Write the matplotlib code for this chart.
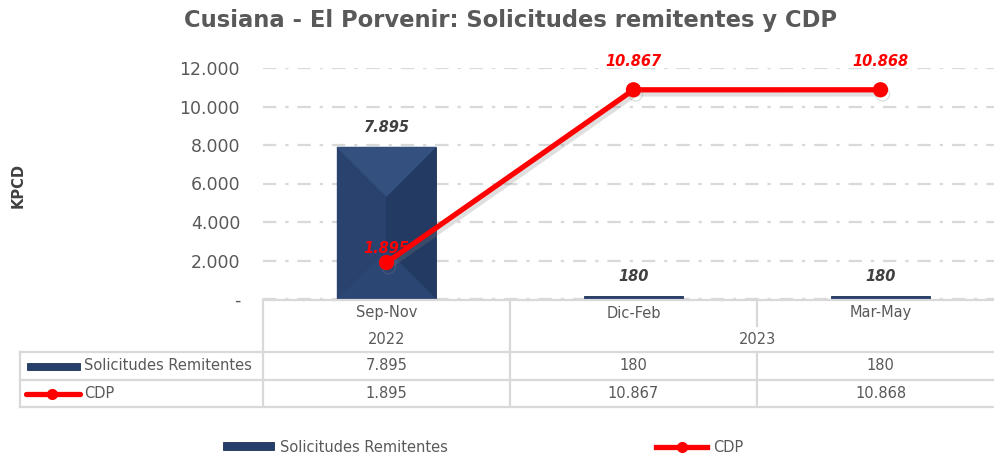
import matplotlib
matplotlib.use("Agg")
import matplotlib.pyplot as plt
import matplotlib.patheffects as pe
from matplotlib.lines import Line2D
from matplotlib.patches import Rectangle, Polygon
from matplotlib.transforms import blended_transform_factory
from matplotlib.ticker import FuncFormatter

# ---------------- data ----------------
periods = ["Sep-Nov", "Dic-Feb", "Mar-May"]
years = ["2022", "2023"]
year_spans = [(0, 0), (1, 2)]
solicitudes = [7895, 180, 180]
cdp = [1895, 10867, 10868]
yticks = [0, 2000, 4000, 6000, 8000, 10000, 12000]
series_names = ["Solicitudes Remitentes", "CDP"]
title = "Cusiana - El Porvenir: Solicitudes remitentes y CDP"
ylabel = "KPCD"

# ---------------- style ----------------
W, H = 994, 457
GREY = "#595959"
DARK = "#404040"
RED = "#FF0000"
NAVY = "#263F6A"
GRID = "#D9D9D9"
FONT = "DejaVu Sans"
plt.rcParams["font.family"] = [FONT]


def fmt(v):
    if v == 0:
        return "-"
    return f"{v:,.0f}".replace(",", ".")


def fy(py):  # pixel-from-top -> figure fraction
    return 1 - py / H


def fx(px):
    return px / W


fig = plt.figure(figsize=(W / 100, H / 100), dpi=100)
ax_left, ax_right, ax_top, ax_bot = 263, 1004, 68, 299
ax = fig.add_axes([fx(ax_left), fy(ax_bot), (ax_right - ax_left) / W, (ax_bot - ax_top) / H])
ax.set_xlim(-0.5, 2.5)
ax.set_ylim(0, 12000)
ax.set_yticks(yticks)
ax.yaxis.set_major_formatter(FuncFormatter(lambda v, p: fmt(v)))
ax.tick_params(axis="y", length=0, pad=16.5, labelsize=12.5, labelcolor=GREY)
ax.tick_params(axis="x", length=0, labelbottom=False)
for s in ax.spines.values():
    s.set_visible(False)
ax.grid(axis="y", color=GRID, linewidth=1.6, linestyle=(0, (6, 4, 1.5, 4)))
ax.set_axisbelow(True)

xs = list(range(len(periods)))
bars = ax.bar(xs, solicitudes, width=0.4, color=NAVY, edgecolor="#1E3257", linewidth=0.6, zorder=2)

# bevel shading
px_per_x = (ax_right - ax_left) / 3.0
px_per_y = (ax_bot - ax_top) / 12000.0
for rect in bars:
    x0, w, h = rect.get_x(), rect.get_width(), rect.get_height()
    hp = h * px_per_y
    if hp < 20:
        continue
    d_px = w * px_per_x / 2
    dy = d_px / px_per_y
    x1 = x0 + w
    xm = x0 + w / 2
    top = h
    faces = [
        ([(x0, 0), (x0, top), (xm, top - dy), (xm, dy)], "#29426E"),
        ([(x1, 0), (x1, top), (xm, top - dy), (xm, dy)], "#233A63"),
        ([(x0, top), (x1, top), (xm, top - dy)], "#33507F"),
        ([(x0, 0), (x1, 0), (xm, dy)], "#2C4673"),
    ]
    for pts, c in faces:
        ax.add_patch(Polygon(pts, closed=True, facecolor=c, edgecolor=c, lw=0.4, zorder=2.1))

ax.plot(xs, cdp, color=RED, linewidth=3.8, marker="o", markersize=10, zorder=4,
        solid_capstyle="round",
        path_effects=[pe.SimpleLineShadow(offset=(1.5, -3), shadow_color="gray", alpha=0.25),
                      pe.Normal()])

for x, v in zip(xs, solicitudes):
    ax.annotate(fmt(v), (x, v), xytext=(0, 8.5), textcoords="offset points", ha="center",
                va="bottom", fontsize=10.5, fontweight="bold", fontstyle="italic",
                color=DARK, annotation_clip=False, zorder=5)
line_offsets = [5, 15, 15]
for x, v, off in zip(xs, cdp, line_offsets):
    ax.annotate(fmt(v), (x, v), xytext=(0, off), textcoords="offset points", ha="center",
                va="bottom", fontsize=10.5, fontweight="bold", fontstyle="italic",
                color=RED, annotation_clip=False, zorder=5)

# title and y label
fig.text(fx(510), fy(20), title, ha="center", va="center", fontsize=16.3,
         fontweight="bold", color=GREY)
fig.text(fx(18), fy(185), ylabel, ha="center", va="center", rotation=90,
         fontsize=10.5, fontweight="bold", color=DARK)

# ---------------- data table ----------------
tr = blended_transform_factory(ax.transData, fig.transFigure)
lw = 1.6
xb = [i - 0.5 for i in range(len(periods) + 1)]
x_left_tab = -0.5 - (ax_left - 20) / px_per_x


def hline(py, xa, xb_):
    fig.add_artist(Line2D([xa, xb_], [fy(py), fy(py)], transform=tr, color=GRID, lw=lw,
                          clip_on=False))


def vline(x, pa, pb):
    fig.add_artist(Line2D([x, x], [fy(pa), fy(pb)], transform=tr, color=GRID, lw=lw,
                          clip_on=False))


row_month, row_year, row_s, row_c = 313, 339, 366, 394
hline(300, xb[0], xb[-1])
for py in (352, 380, 407):
    hline(py, x_left_tab, xb[-1])
vline(x_left_tab, 352, 407)
inner_breaks = set()
for (a, b) in year_spans:
    for inner in range(a, b):
        inner_breaks.add(inner + 0.5)
for b in xb[:-1]:
    if b in inner_breaks:
        vline(b, 300, 326)
        vline(b, 352, 407)
    else:
        vline(b, 300, 407)

tkw = dict(transform=tr, ha="center", va="center", fontsize=10.5, color=GREY)
for x, p in zip(xs, periods):
    fig.text(x, fy(row_month), p, **tkw)
for yname, (a, b) in zip(years, year_spans):
    fig.text((a + b) / 2, fy(row_year), yname, **tkw)
for x, v in zip(xs, solicitudes):
    fig.text(x, fy(row_s), fmt(v), **tkw)
for x, v in zip(xs, cdp):
    fig.text(x, fy(row_c), fmt(v), **tkw)

# row headers with keys
fig.add_artist(Rectangle((fx(27), fy(row_s) - 3.5 / H), 53 / W, 7 / H, transform=fig.transFigure,
                         facecolor=NAVY, edgecolor="#1E3257", lw=0.6))
fig.text(fx(84), fy(row_s), series_names[0], ha="left", va="center", fontsize=10.5, color=GREY)
fig.add_artist(Line2D([fx(26), fx(80)], [fy(row_c)] * 2, transform=fig.transFigure,
                      color=RED, lw=3.8, solid_capstyle="round"))
fig.add_artist(Line2D([fx(52)], [fy(row_c)], transform=fig.transFigure, color=RED,
                      marker="o", markersize=7, lw=0))
fig.text(fx(84), fy(row_c), series_names[1], ha="left", va="center", fontsize=10.5, color=GREY)

# ---------------- bottom legend ----------------
h_bar = Rectangle((0, 0), 1, 1, facecolor=NAVY, edgecolor="#1E3257", lw=0.6)
h_line = Line2D([], [], color=RED, lw=3.8, marker="o", markersize=7)
leg = fig.legend([h_bar, h_line], series_names, loc="center", ncol=2,
                 bbox_to_anchor=(fx(483), fy(447)), frameon=False, fontsize=10.5,
                 handlelength=3.5, handleheight=0.5, handletextpad=0.4, columnspacing=14.3)
for t in leg.get_texts():
    t.set_color(GREY)

fig.savefig("out.png", dpi=100)
